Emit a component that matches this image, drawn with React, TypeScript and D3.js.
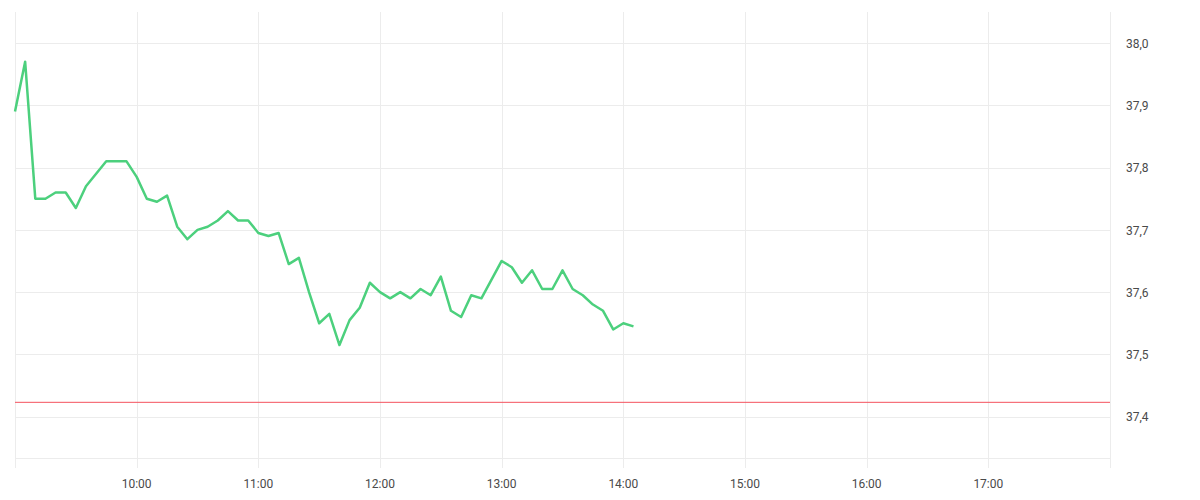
import React, { useRef, useEffect } from "react";
import * as d3 from "d3";

// 5-minute closes from 09:00 to 14:05
const startTime = Date.UTC(2024, 0, 15, 9, 0);
const stepMinutes = 5;
const prices = [
  37.89, 37.97, 37.75, 37.75, 37.76, 37.76, 37.735, 37.77, 37.79, 37.81,
  37.81, 37.81, 37.785, 37.75, 37.745, 37.755, 37.705, 37.685, 37.7, 37.705,
  37.715, 37.73, 37.715, 37.715, 37.695, 37.69, 37.695, 37.645, 37.655, 37.6,
  37.55, 37.565, 37.515, 37.555, 37.575, 37.615, 37.6, 37.59, 37.6, 37.59,
  37.605, 37.595, 37.625, 37.57, 37.56, 37.595, 37.59, 37.62, 37.65, 37.64,
  37.615, 37.635, 37.605, 37.605, 37.635, 37.605, 37.595, 37.58, 37.57, 37.54,
  37.55, 37.545,
];
const referencePrice = 37.423;
const priceTicks = [37.4, 37.5, 37.6, 37.7, 37.8, 37.9, 38.0];
const hourTicks = [10, 11, 12, 13, 14, 15, 16, 17];
const gridHours = [9, 10, 11, 12, 13, 14, 15, 16, 17, 18];
const yDomain: [number, number] = [37.3336, 38.0498];

const hourDate = (h: number) => new Date(Date.UTC(2024, 0, 15, h, 0));

const App: React.FC = () => {
  const svgRef = useRef<SVGSVGElement>(null);
  const width = 1200;
  const height = 500;

  useEffect(() => {
    if (!svgRef.current) return;
    const svg = d3.select(svgRef.current);
    svg.selectAll("*").remove();

    const plot = { left: 15, right: 1110, top: 12, bottom: 458 };

    const data = prices.map((p, i) => ({
      date: new Date(startTime + i * stepMinutes * 60000),
      value: p,
    }));

    const x = d3
      .scaleUtc()
      .domain([hourDate(9), hourDate(18)])
      .range([plot.left, plot.right]);
    const y = d3.scaleLinear().domain(yDomain).range([plot.bottom, plot.top]);

    const fmt = d3.formatLocale({
      decimal: ",",
      thousands: ".",
      grouping: [3],
      currency: ["", ""],
    }).format(".1f");

    const grid = svg.append("g").attr("stroke", "#ececec").attr("stroke-width", 1);

    // horizontal grid
    grid
      .selectAll(".hgrid")
      .data([...priceTicks, yDomain[0]])
      .enter()
      .append("line")
      .attr("x1", plot.left)
      .attr("x2", plot.right)
      .attr("y1", (d) => Math.round(y(d)) + 0.5)
      .attr("y2", (d) => Math.round(y(d)) + 0.5);

    // vertical grid (extends below plot as ticks)
    grid
      .selectAll(".vgrid")
      .data(gridHours)
      .enter()
      .append("line")
      .attr("x1", (d) => Math.round(x(hourDate(d))) + 0.5)
      .attr("x2", (d) => Math.round(x(hourDate(d))) + 0.5)
      .attr("y1", plot.top)
      .attr("y2", plot.bottom + 10);

    // reference line
    svg
      .append("line")
      .attr("x1", plot.left)
      .attr("x2", plot.right)
      .attr("y1", y(referencePrice))
      .attr("y2", y(referencePrice))
      .attr("stroke", "#f4525e")
      .attr("stroke-width", 1);

    // price line
    const line = d3
      .line<{ date: Date; value: number }>()
      .x((d) => x(d.date))
      .y((d) => y(d.value));

    svg
      .append("path")
      .datum(data)
      .attr("d", line)
      .attr("fill", "none")
      .attr("stroke", "#4cd07d")
      .attr("stroke-width", 2.5)
      .attr("stroke-linejoin", "round");

    // y labels
    svg
      .selectAll(".ylab")
      .data(priceTicks)
      .enter()
      .append("text")
      .attr("x", 1126)
      .attr("y", (d) => y(d))
      .attr("dy", "0.4em")
      .attr("font-size", 12)
      .attr("font-family", "Roboto, sans-serif")
      .attr("fill", "#4a4a4a")
      .text((d) => fmt(d));

    // x labels
    svg
      .selectAll(".xlab")
      .data(hourTicks)
      .enter()
      .append("text")
      .attr("x", (d) => x(hourDate(d)))
      .attr("y", 488)
      .attr("text-anchor", "middle")
      .attr("font-size", 12)
      .attr("font-family", "Roboto, sans-serif")
      .attr("fill", "#4a4a4a")
      .text((d) => d3.utcFormat("%H:%M")(hourDate(d)));
  }, []);

  return (
    <svg
      ref={svgRef}
      width={width}
      height={height}
      style={{ position: "absolute", left: 0, top: 0, background: "#fff" }}
    ></svg>
  );
};

export default App;
